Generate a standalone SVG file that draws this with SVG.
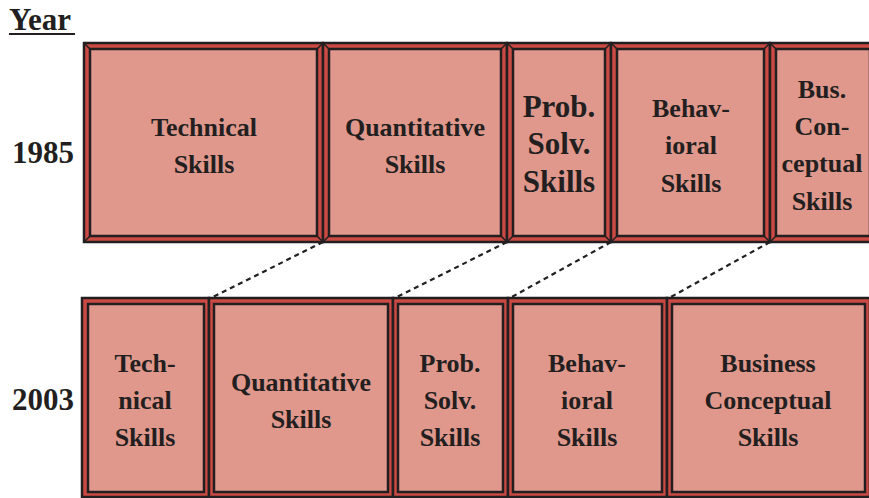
<svg xmlns="http://www.w3.org/2000/svg" width="869" height="498" viewBox="0 0 869 498">
<style>
.o{fill:#CB4A43;stroke:#231F20;stroke-width:2.5}
.i{fill:#E0988C;stroke:#231F20;stroke-width:2.5}
.b{stroke:#231F20;stroke-width:1.5}
.t{font-family:"Liberation Serif",serif;font-weight:bold;fill:#231F20;text-anchor:middle;font-size:26px}
.big{font-size:31px}
.lab{font-family:"Liberation Serif",serif;font-weight:bold;fill:#231F20;font-size:31px}
.c{stroke:#231F20;stroke-width:2.2;stroke-dasharray:5 4;fill:none}
</style>
<rect width="869" height="498" fill="#fff"/>
<g id="labels">
<text class="lab" x="9" y="30">Year</text>
<line x1="9" y1="34" x2="75" y2="34" stroke="#231F20" stroke-width="2.2"/>
<text class="lab" x="12" y="163">1985</text>
<text class="lab" x="12" y="410">2003</text>
</g>
<g id="connectors">
<line class="c" x1="323" y1="242" x2="211" y2="298"/>
<line class="c" x1="507" y1="242" x2="395" y2="298"/>
<line class="c" x1="611" y1="242" x2="510" y2="298"/>
<line class="c" x1="770" y1="242" x2="669" y2="298"/>
</g>
<g id="n1985-technical">
<rect class="o" x="84" y="43" width="239" height="199"/>
<rect class="i" x="90" y="49" width="227" height="187"/>
<path class="b" d="M84 43L90 49M323 43L317 49M84 242L90 236M323 242L317 236"/>
<text class="t" x="204" y="136">Technical</text>
<text class="t" x="204" y="173">Skills</text>
</g>
<g id="n1985-quantitative">
<rect class="o" x="323" y="43" width="184" height="199"/>
<rect class="i" x="329" y="49" width="172" height="187"/>
<path class="b" d="M323 43L329 49M507 43L501 49M323 242L329 236M507 242L501 236"/>
<text class="t" x="415" y="136">Quantitative</text>
<text class="t" x="415" y="173">Skills</text>
</g>
<g id="n1985-probsolv">
<rect class="o" x="507" y="43" width="104" height="199"/>
<rect class="i" x="513" y="49" width="92" height="187"/>
<path class="b" d="M507 43L513 49M611 43L605 49M507 242L513 236M611 242L605 236"/>
<text class="t big" x="559" y="117">Prob.</text>
<text class="t big" x="559" y="154">Solv.</text>
<text class="t big" x="559" y="192">Skills</text>
</g>
<g id="n1985-behavioral">
<rect class="o" x="611" y="43" width="159" height="199"/>
<rect class="i" x="617" y="49" width="147" height="187"/>
<path class="b" d="M611 43L617 49M770 43L764 49M611 242L617 236M770 242L764 236"/>
<text class="t" x="691" y="117">Behav-</text>
<text class="t" x="691" y="154">ioral</text>
<text class="t" x="691" y="192">Skills</text>
</g>
<g id="n1985-business">
<rect class="o" x="770" y="43" width="106" height="199"/>
<rect class="i" x="776" y="49" width="94" height="187"/>
<path class="b" d="M770 43L776 49M770 242L776 236"/>
<text class="t" x="822" y="98">Bus.</text>
<text class="t" x="822" y="135">Con-</text>
<text class="t" x="822" y="172">ceptual</text>
<text class="t" x="822" y="210">Skills</text>
</g>
<g id="n2003-technical">
<rect class="o" x="82" y="298" width="127" height="199"/>
<rect class="i" x="88" y="304" width="116" height="188"/>
<text class="t" x="145" y="372">Tech-</text>
<text class="t" x="145" y="409">nical</text>
<text class="t" x="145" y="446">Skills</text>
</g>
<g id="n2003-quantitative">
<rect class="o" x="209" y="298" width="184" height="199"/>
<rect class="i" x="214" y="304" width="174" height="188"/>
<text class="t" x="301" y="391">Quantitative</text>
<text class="t" x="301" y="428">Skills</text>
</g>
<g id="n2003-probsolv">
<rect class="o" x="393" y="298" width="115" height="199"/>
<rect class="i" x="398" y="304" width="105" height="188"/>
<text class="t" x="450" y="372">Prob.</text>
<text class="t" x="450" y="409">Solv.</text>
<text class="t" x="450" y="446">Skills</text>
</g>
<g id="n2003-behavioral">
<rect class="o" x="508" y="298" width="159" height="199"/>
<rect class="i" x="513" y="304" width="149" height="188"/>
<text class="t" x="587" y="372">Behav-</text>
<text class="t" x="587" y="409">ioral</text>
<text class="t" x="587" y="446">Skills</text>
</g>
<g id="n2003-business">
<rect class="o" x="667" y="298" width="203" height="199"/>
<rect class="i" x="672" y="304" width="193" height="188"/>
<text class="t" x="768" y="372">Business</text>
<text class="t" x="768" y="409">Conceptual</text>
<text class="t" x="768" y="446">Skills</text>
</g>
</svg>
